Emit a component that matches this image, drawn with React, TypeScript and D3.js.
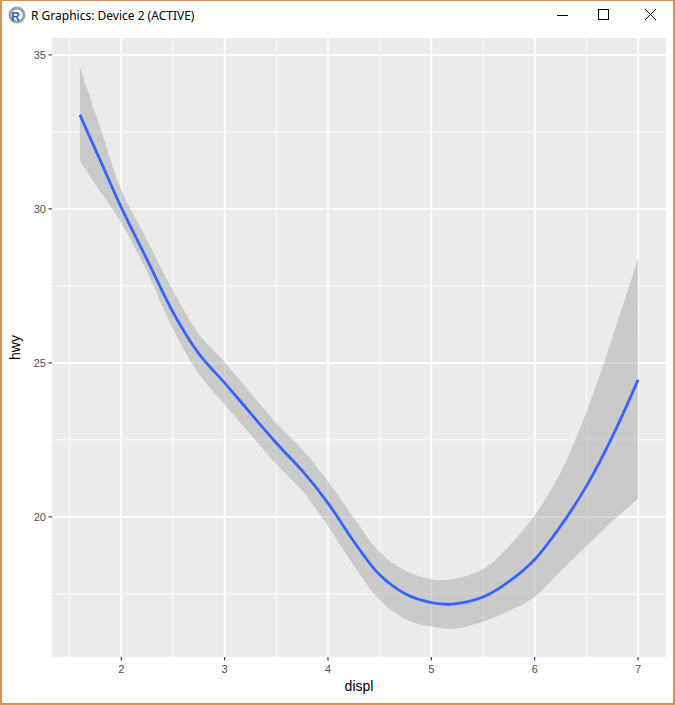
import React from "react";
import * as d3 from "d3";

const xs = [1.6, 1.8, 2.0, 2.25, 2.5, 2.75, 3.0, 3.25, 3.5, 3.75, 4.0, 4.25, 4.5, 4.75, 5.0, 5.2, 5.5, 5.75, 6.0, 6.25, 6.5, 6.75, 7.0];
const fit = [33.05, 31.55, 30.05, 28.35, 26.65, 25.3, 24.35, 23.37, 22.4, 21.5, 20.45, 19.2, 18.12, 17.5, 17.22, 17.17, 17.4, 17.9, 18.62, 19.7, 21.0, 22.6, 24.45];
const upper = [34.6, 32.6, 30.62, 28.98, 27.35, 25.95, 25.02, 24.02, 23.05, 22.2, 21.15, 19.97, 18.85, 18.25, 17.98, 17.98, 18.3, 19.05, 20.05, 21.45, 23.4, 25.8, 28.4];
const lower = [31.55, 30.55, 29.55, 27.95, 26.1, 24.65, 23.65, 22.68, 21.72, 20.85, 19.7, 18.42, 17.3, 16.68, 16.44, 16.37, 16.6, 16.95, 17.4, 18.25, 19.05, 19.85, 20.6];

const xTicks = [2, 3, 4, 5, 6, 7];
const xMinor = [1.5, 2.5, 3.5, 4.5, 5.5, 6.5];
const yTicks = [20, 25, 30, 35];
const yMinor = [17.5, 22.5, 27.5, 32.5];

const W = 675;
const H = 705;
const panel = { left: 52, right: 666, top: 38, bottom: 657 };

type P = { x: number; f: number; lo: number; hi: number };

export default function App() {
  const x = d3.scaleLinear().domain([1.33, 7.27]).range([panel.left, panel.right]);
  const y = d3.scaleLinear().domain([15.452, 35.548]).range([panel.bottom, panel.top]);

  const pts: P[] = xs.map((v, i) => ({ x: v, f: fit[i], lo: lower[i], hi: upper[i] }));
  const curve = d3.curveCatmullRom.alpha(0.5);
  const area = d3
    .area<P>()
    .x((d) => x(d.x))
    .y0((d) => y(d.lo))
    .y1((d) => y(d.hi))
    .curve(curve);
  const line = d3
    .line<P>()
    .x((d) => x(d.x))
    .y((d) => y(d.f))
    .curve(curve);

  const border = "#DB9155";
  const font = "'Liberation Sans', Arial, sans-serif";

  return (
    <svg
      width={W}
      height={H}
      style={{ position: "fixed", left: 0, top: 0, display: "block" }}
      xmlns="http://www.w3.org/2000/svg"
    >
      {/* window */}
      <rect x={0} y={0} width={W} height={H} fill="#ffffff" />
      <rect x={0} y={0} width={2} height={H} fill={border} />
      <rect x={W - 2} y={0} width={2} height={H} fill={border} />
      <rect x={0} y={H - 2} width={W} height={2} fill={border} />
      <rect x={0} y={0} width={W} height={1} fill={border} />

      {/* title bar */}
      <g>
        <circle cx={17} cy={15} r={7} fill="none" stroke="#9aa3ad" strokeWidth={3} />
        <text x={15.5} y={21} fontFamily={font} fontWeight="bold" fontSize={12} fill="#2166b5" textAnchor="middle">
          R
        </text>
        <text x={31} y={20} fontFamily="'Noto Sans', 'Segoe UI', sans-serif" fontSize={12} fill="#000000">
          R Graphics: Device 2 (ACTIVE)
        </text>
        <line x1={557} y1={15.5} x2={568} y2={15.5} stroke="#000" strokeWidth={1} />
        <rect x={598.5} y={9.5} width={10} height={10} fill="none" stroke="#000" strokeWidth={1} />
        <line x1={645} y1={9} x2={656} y2={20} stroke="#000" strokeWidth={1} />
        <line x1={656} y1={9} x2={645} y2={20} stroke="#000" strokeWidth={1} />
      </g>

      {/* panel */}
      <rect
        x={panel.left}
        y={panel.top}
        width={panel.right - panel.left}
        height={panel.bottom - panel.top}
        fill="#EBEBEB"
      />
      <g stroke="#ffffff" strokeWidth={0.8}>
        {xMinor.map((t) => (
          <line key={"xm" + t} x1={x(t)} x2={x(t)} y1={panel.top} y2={panel.bottom} />
        ))}
        {yMinor.map((t) => (
          <line key={"ym" + t} x1={panel.left} x2={panel.right} y1={y(t)} y2={y(t)} />
        ))}
      </g>
      <g stroke="#ffffff" strokeWidth={1.6}>
        {xTicks.map((t) => (
          <line key={"xM" + t} x1={x(t)} x2={x(t)} y1={panel.top} y2={panel.bottom} />
        ))}
        {yTicks.map((t) => (
          <line key={"yM" + t} x1={panel.left} x2={panel.right} y1={y(t)} y2={y(t)} />
        ))}
      </g>

      <path d={area(pts) || ""} fill="#999999" fillOpacity={0.4} />
      <path d={line(pts) || ""} fill="none" stroke="#3366FF" strokeWidth={2.8} />

      {/* axes */}
      <g stroke="#333333" strokeWidth={1.1}>
        {xTicks.map((t) => (
          <line key={"xt" + t} x1={x(t)} x2={x(t)} y1={panel.bottom} y2={panel.bottom + 3.5} />
        ))}
        {yTicks.map((t) => (
          <line key={"yt" + t} x1={panel.left - 3.5} x2={panel.left} y1={y(t)} y2={y(t)} />
        ))}
      </g>
      <g fontFamily={font} fontSize={11} fill="#4D4D4D">
        {xTicks.map((t) => (
          <text key={"xl" + t} x={x(t)} y={673} textAnchor="middle">
            {t}
          </text>
        ))}
        {yTicks.map((t) => (
          <text key={"yl" + t} x={46} y={y(t) + 4} textAnchor="end">
            {t}
          </text>
        ))}
      </g>
      <text x={(panel.left + panel.right) / 2} y={691} fontFamily={font} fontSize={14} textAnchor="middle" fill="#000">
        displ
      </text>
      <text
        transform={`translate(20, ${(panel.top + panel.bottom) / 2}) rotate(-90)`}
        fontFamily={font}
        fontSize={14}
        textAnchor="middle"
        fill="#000"
      >
        hwy
      </text>
    </svg>
  );
}
